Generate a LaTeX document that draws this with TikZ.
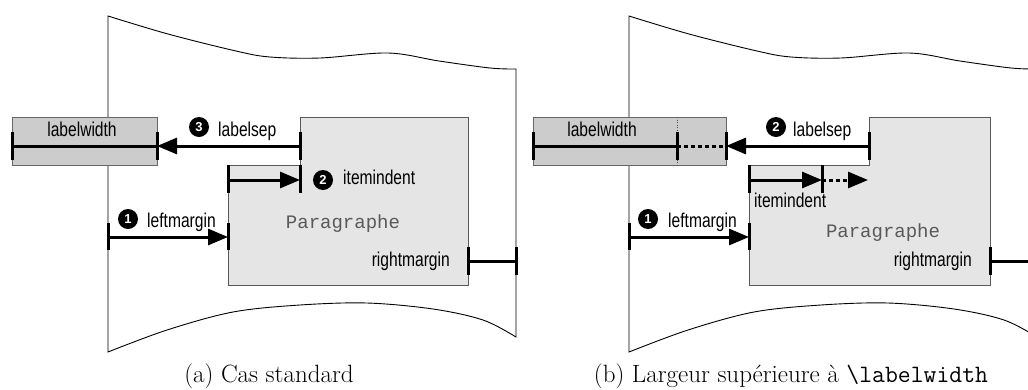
\documentclass[tikz,border=0pt]{standalone}
\usepackage{fontspec}
\newfontfamily\hv[FakeStretch=0.78]{Liberation Sans}
\newfontfamily\numfont{Liberation Sans}
\newfontfamily\cour{Liberation Mono}
\usetikzlibrary{arrows.meta}
\begin{document}
\begin{tikzpicture}[x=1pt,y=-1pt,
  page/.style={draw=black, line width=0.9pt},
  lwbox/.style={draw=black!60, fill=black!20, line width=0.8pt, inner sep=0pt, anchor=north west},
  parbox/.style={draw=black!65, fill=black!10, line width=0.9pt},
  meas/.style={line width=3pt},
  tickm/.style={line width=3pt},
  arr/.style={meas, -{Triangle[length=20pt,width=16pt]}},
  dotln/.style={line width=3pt, dash pattern=on 4pt off 3pt},
  lbl/.style={font=\hv\fontsize{20}{22}\selectfont, inner sep=0pt, anchor=base west},
  num/.style={circle, fill=black, text=white, minimum size=20pt, inner sep=0pt, font=\numfont\bfseries\fontsize{13}{13}\selectfont},
  para/.style={font=\cour\fontsize{19}{20}\selectfont, text=black!65, inner sep=0pt, anchor=base},
  captxt/.style={font=\fontsize{25}{30}\selectfont, inner sep=0pt, anchor=base}
]
\clip (0,0) rectangle (1028,389);
\fill[white] (0,0) rectangle (1028,389);

% ---------- pages ----------
\foreach \s in {0,521}{
\begin{scope}[shift={(\s,0)}]
\draw[page] plot[smooth, tension=0.55] coordinates {(108,16) (168,34) (236,51) (270,57) (320,58) (388,53) (439,61) (490,68) (516,69)}
  -- plot[smooth, tension=0.55] coordinates {(516,337) (483,320) (433,309) (367,303) (300,305) (233,312) (167,330) (108,352)}
  -- cycle;
\end{scope}}

% =============== (a) ===============
\node[lwbox, minimum width=145pt, minimum height=48pt] (lwA) at (12,117) {};
\draw[parbox] (300,117) -- (468,117) -- (468,285) -- (228,285) -- (228,165) -- (300,165) -- cycle;

\coordinate (aLWl) at (12,146);
\coordinate (aLWr) at (157,146);
\coordinate (aLS) at (300,146);
\coordinate (aIIl) at (228,180);
\coordinate (aIIr) at (300,180);
\coordinate (aLMl) at (108,237);
\coordinate (aLMr) at (228,237);
\coordinate (aRMl) at (468,261);
\coordinate (aRMr) at (516,261);

\draw[meas] (aLWl) -- (aLWr);
\draw[arr] (aLS) -- (aLWr);
\draw[arr] (aIIl) -- (aIIr);
\draw[arr] (aLMl) -- (aLMr);
\draw[meas] (aRMl) -- (aRMr);

\foreach \x in {12,157,300}{\draw[tickm] (\x,132) -- (\x,160);}
\foreach \x in {228,300}{\draw[tickm] (\x,165) -- (\x,193);}
\foreach \x in {108,228}{\draw[tickm] (\x,223) -- (\x,250);}
\foreach \x in {468,516}{\draw[tickm] (\x,247) -- (\x,275);}

\node[lbl, anchor=base] (aTlw) at (82,136) {labelwidth};
\node[num] (aN3) at (199,127) {3};
\node[lbl] (aTls) at (218,136) {labelsep};
\node[num] (aN2) at (323,180) {2};
\node[lbl] (aTii) at (343,184) {itemindent};
\node[num] (aN1) at (128,219) {1};
\node[lbl] (aTlm) at (147,227) {leftmargin};
\node[para] (aPar) at (343,228) {Paragraphe};
\node[lbl, anchor=base east] (aTrm) at (450,266) {rightmargin};
\node[captxt] (capA) at (269,382) {(a) Cas standard};

% =============== (b) ===============
\node[lwbox, minimum width=193pt, minimum height=48pt] (lwB) at (533,117) {};
\draw[black!70, line width=0.6pt, dash pattern=on 1pt off 1.5pt] (677,117) -- (677,165);
\draw[parbox] (869,117) -- (990,117) -- (990,285) -- (749,285) -- (749,165) -- (869,165) -- cycle;

\coordinate (bLWl) at (533,146);
\coordinate (bLWm) at (677,146);
\coordinate (bLWr) at (726,146);
\coordinate (bLS) at (869,146);
\coordinate (bIIl) at (749,180);
\coordinate (bIIm) at (822,180);
\coordinate (bIIr) at (868,180);
\coordinate (bLMl) at (629,237);
\coordinate (bLMr) at (749,237);
\coordinate (bRMl) at (990,261);
\coordinate (bRMr) at (1037,261);

\draw[meas] (bLWl) -- (bLWm);
\draw[dotln] (bLWm) -- (bLWr);
\draw[arr] (bLS) -- (bLWr);
\draw[arr] (bIIl) -- (bIIm);
\draw[dotln, -{Triangle[length=20pt,width=16pt]}] (bIIm) -- (bIIr);
\draw[arr] (bLMl) -- (bLMr);
\draw[meas] (bRMl) -- (bRMr);

\foreach \x in {533,677,726,869}{\draw[tickm] (\x,132) -- (\x,160);}
\foreach \x in {749,822}{\draw[tickm] (\x,165) -- (\x,193);}
\foreach \x in {629,749}{\draw[tickm] (\x,223) -- (\x,250);}
\foreach \x in {990}{\draw[tickm] (\x,247) -- (\x,275);}

\node[lbl, anchor=base] (bTlw) at (602,136) {labelwidth};
\node[num] (bN2) at (776,127) {2};
\node[lbl] (bTls) at (793,136) {labelsep};
\node[lbl] (bTii) at (754,207) {itemindent};
\node[num] (bN1) at (648,219) {1};
\node[lbl] (bTlm) at (668,227) {leftmargin};
\node[para] (bPar) at (883,237) {Paragraphe};
\node[lbl, anchor=base east] (bTrm) at (972,266) {rightmargin};
\node[captxt] (capB) at (791,382) {(b) Largeur supérieure à \texttt{\textbackslash labelwidth}};
\end{tikzpicture}
\end{document}
